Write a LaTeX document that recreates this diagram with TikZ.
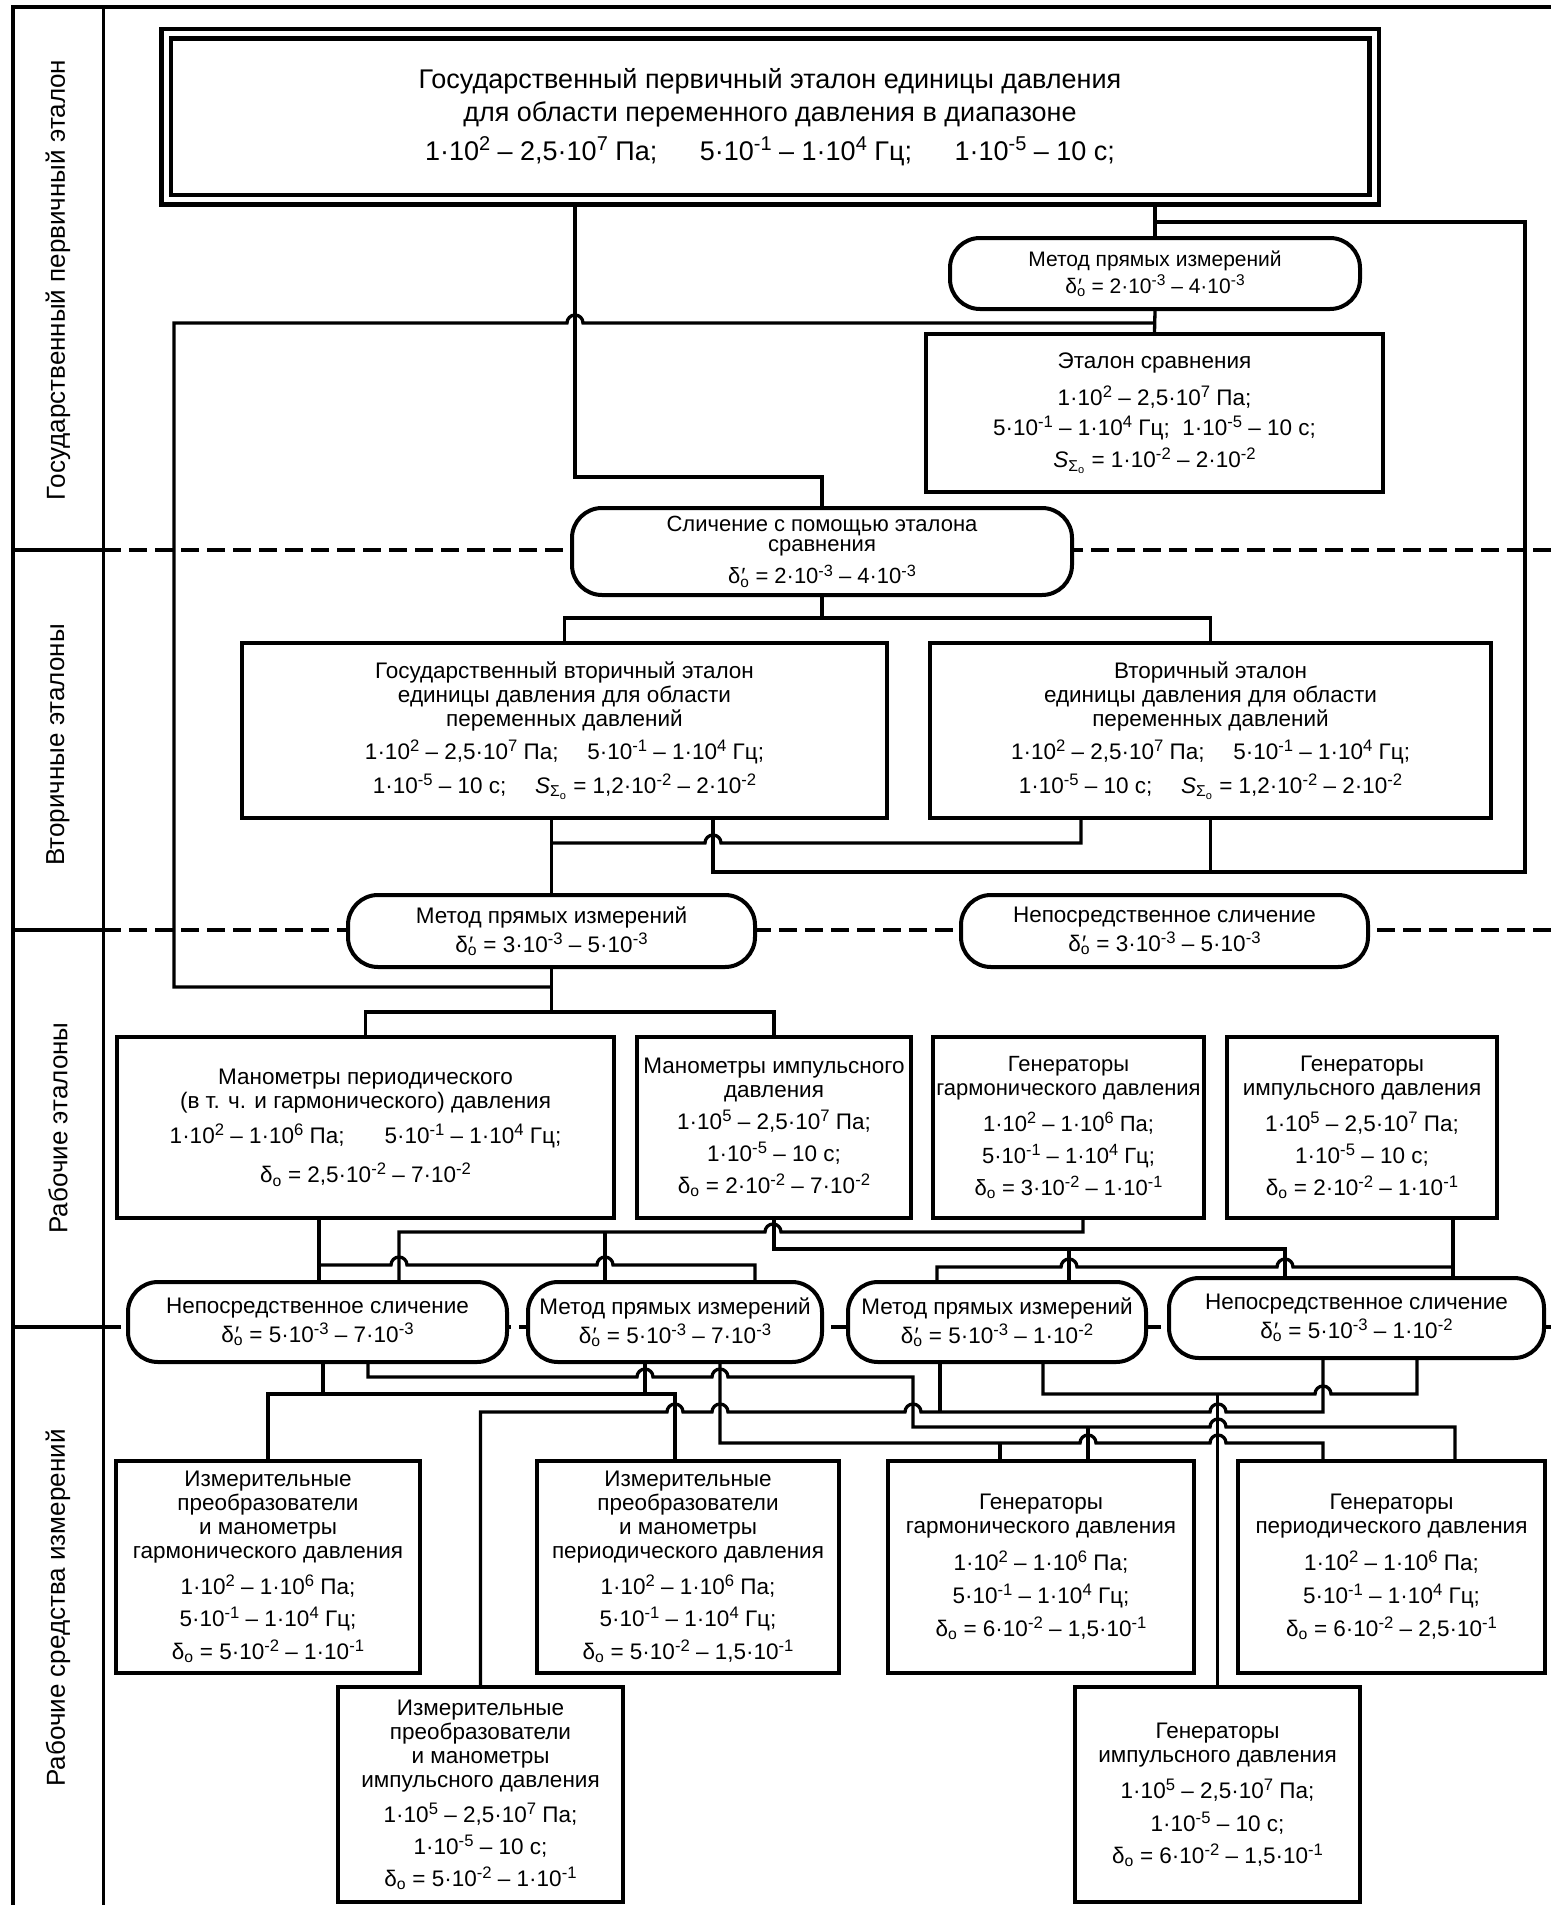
\documentclass[tikz,border=0pt]{standalone}
\usepackage{fontspec}
\setmainfont{Liberation Sans}
\newcommand{\tp}[1]{\raisebox{0.36em}{\scalebox{0.74}{#1}}}
\newcommand{\dpr}{δ\rlap{\kern0.05em′}\textsubscript{o}}
\newcommand{\dlo}{δ\textsubscript{o}}
\newcommand{\sso}{\textit{S}\textsubscript{Σ\textsubscript{o}}}
\begin{document}
\begin{tikzpicture}[x=1pt,y=-1pt,
  box/.style={draw,line width=4pt,fill=white,align=center,inner sep=2pt,font=\fontsize{22.5}{24}\selectfont},
  oval/.style={box,rounded corners=30pt},
  conn/.style={line width=3.3pt},
  rowsep/.style={line width=4.5pt,dash pattern=on 18pt off 8pt},
  lbl/.style={rotate=90,font=\fontsize{26}{30}\selectfont}]
\useasboundingbox (0,0) rectangle (1551,1905);
\fill[white] (0,0) rectangle (1551,1905);
% frame and rows
\draw[line width=4pt] (13,1905) -- (13,7) -- (1551,7);
\draw[line width=3pt] (103,7) -- (103,1905);
\foreach \y in {550,930,1327} {
  \draw[line width=4.5pt] (13,\y) -- (103,\y);
  \draw[rowsep] (103,\y) -- (1551,\y);
}
\node[lbl] (lab1) at (58,280) {Государственный первичный эталон};
\node[lbl] (lab2) at (58,745) {Вторичные эталоны};
\node[lbl] (lab3) at (58,1128) {Рабочие эталоны};
\node[lbl] (lab4) at (58,1608) {Рабочие средства измерений};
% primary standard
\node[box,double,double distance=5pt,line width=4.5pt,minimum width=1208pt,minimum height=166pt,font=\fontsize{27}{33}\selectfont] (prim) at (770,117)
  {Государственный первичный эталон единицы давления\\ для области переменного давления в диапазоне\\[6pt]
   1·10\tp{2} – 2,5·10\tp{7} Па;\hspace{1.3em} 5·10\tp{-1} – 1·10\tp{4} Гц;\hspace{1.3em} 1·10\tp{-5} – 10 с;};
\node[oval,minimum width=410pt,minimum height=71pt,font=\fontsize{21}{23}\selectfont] (mpd1) at (1155,273.5)
  {Метод прямых измерений\\[4pt] \dpr{} = 2·10\tp{-3} – 4·10\tp{-3}};
\node[box,minimum width=457pt,minimum height=158pt] (etsr) at (1154.5,413)
  {Эталон сравнения\\[12pt] 1·10\tp{2} – 2,5·10\tp{7} Па;\\[6pt] 5·10\tp{-1} – 1·10\tp{4} Гц;\ \ 1·10\tp{-5} – 10 с;\\[7pt] \sso{} = 1·10\tp{-2} – 2·10\tp{-2}};
% secondary standards
\node[oval,minimum width=500pt,minimum height=87pt,font=\fontsize{22}{20}\selectfont] (slich) at (822,551.5)
  {Сличение с помощью эталона\\ сравнения\\[8pt] \dpr{} = 2·10\tp{-3} – 4·10\tp{-3}};
\node[box,minimum width=645pt,minimum height=175pt] (gvt) at (564.5,730.5)
  {Государственный вторичный эталон\\ единицы давления для области\\ переменных давлений\\[8pt]
   1·10\tp{2} – 2,5·10\tp{7} Па;\hspace{1em} 5·10\tp{-1} – 1·10\tp{4} Гц;\\[8pt] 1·10\tp{-5} – 10 с;\hspace{1em} \sso{} = 1,2·10\tp{-2} – 2·10\tp{-2}};
\node[box,minimum width=561pt,minimum height=175pt] (vt) at (1210.5,730.5)
  {Вторичный эталон\\ единицы давления для области\\ переменных давлений\\[8pt]
   1·10\tp{2} – 2,5·10\tp{7} Па;\hspace{1em} 5·10\tp{-1} – 1·10\tp{4} Гц;\\[8pt] 1·10\tp{-5} – 10 с;\hspace{1em} \sso{} = 1,2·10\tp{-2} – 2·10\tp{-2}};
\node[oval,minimum width=407pt,minimum height=72pt] (mpd2) at (551.5,931)
  {Метод прямых измерений\\[4pt] \dpr{} = 3·10\tp{-3} – 5·10\tp{-3}};
\node[oval,minimum width=407pt,minimum height=72pt] (nsl2) at (1164.5,931)
  {Непосредственное сличение\\[4pt] \dpr{} = 3·10\tp{-3} – 5·10\tp{-3}};
% working standards
\node[box,minimum width=497pt,minimum height=181pt] (manper) at (365.5,1127.5)
  {Манометры периодического\\ (в т. ч. и гармонического) давления\\[10pt]
   1·10\tp{2} – 1·10\tp{6} Па;\hspace{1.5em} 5·10\tp{-1} – 1·10\tp{4} Гц;\\[14pt] \dlo{} = 2,5·10\tp{-2} – 7·10\tp{-2}};
\node[box,minimum width=274pt,minimum height=181pt] (manimp) at (774,1127.5)
  {Манометры импульсного\\ давления\\[7pt] 1·10\tp{5} – 2,5·10\tp{7} Па;\\[8pt] 1·10\tp{-5} – 10 с;\\[8pt] \dlo{} = 2·10\tp{-2} – 7·10\tp{-2}};
\node[box,minimum width=271pt,minimum height=181pt,font=\fontsize{22}{24}\selectfont] (genharm) at (1068.5,1127.5)
  {Генераторы\\ гармонического давления\\[12pt] 1·10\tp{2} – 1·10\tp{6} Па;\\[8pt] 5·10\tp{-1} – 1·10\tp{4} Гц;\\[8pt] \dlo{} = 3·10\tp{-2} – 1·10\tp{-1}};
\node[box,minimum width=270pt,minimum height=181pt] (genimp) at (1362,1127.5)
  {Генераторы\\ импульсного давления\\[11pt] 1·10\tp{5} – 2,5·10\tp{7} Па;\\[8pt] 1·10\tp{-5} – 10 с;\\[8pt] \dlo{} = 2·10\tp{-2} – 1·10\tp{-1}};
% comparison methods, lower row
\node[oval,minimum width=379pt,minimum height=80pt] (nsa) at (317.5,1322)
  {Непосредственное сличение\\[4pt] \dpr{} = 5·10\tp{-3} – 7·10\tp{-3}};
\node[oval,minimum width=294pt,minimum height=80pt] (mpa) at (675,1322)
  {Метод прямых измерений\\[4pt] \dpr{} = 5·10\tp{-3} – 7·10\tp{-3}};
\node[oval,minimum width=298pt,minimum height=80pt] (mpb) at (997,1322)
  {Метод прямых измерений\\[4pt] \dpr{} = 5·10\tp{-3} – 1·10\tp{-2}};
\node[oval,minimum width=375pt,minimum height=80pt] (nsb) at (1356.5,1318)
  {Непосредственное сличение\\[4pt] \dpr{} = 5·10\tp{-3} – 1·10\tp{-2}};
% working measuring instruments
\node[box,minimum width=304pt,minimum height=212pt] (izh) at (268,1567)
  {Измерительные\\ преобразователи\\ и манометры\\ гармонического давления\\[10pt]
   1·10\tp{2} – 1·10\tp{6} Па;\\[8pt] 5·10\tp{-1} – 1·10\tp{4} Гц;\\[8pt] \dlo{} = 5·10\tp{-2} – 1·10\tp{-1}};
\node[box,minimum width=302pt,minimum height=212pt] (izp) at (688,1567)
  {Измерительные\\ преобразователи\\ и манометры\\ периодического давления\\[10pt]
   1·10\tp{2} – 1·10\tp{6} Па;\\[8pt] 5·10\tp{-1} – 1·10\tp{4} Гц;\\[8pt] \dlo{} = 5·10\tp{-2} – 1,5·10\tp{-1}};
\node[box,minimum width=306pt,minimum height=212pt] (gh) at (1041,1567)
  {Генераторы\\ гармонического давления\\[11pt] 1·10\tp{2} – 1·10\tp{6} Па;\\[9pt] 5·10\tp{-1} – 1·10\tp{4} Гц;\\[8pt] \dlo{} = 6·10\tp{-2} – 1,5·10\tp{-1}};
\node[box,minimum width=307pt,minimum height=212pt] (gp) at (1391.5,1567)
  {Генераторы\\ периодического давления\\[11pt] 1·10\tp{2} – 1·10\tp{6} Па;\\[9pt] 5·10\tp{-1} – 1·10\tp{4} Гц;\\[8pt] \dlo{} = 6·10\tp{-2} – 2,5·10\tp{-1}};
\node[box,minimum width=285pt,minimum height=215pt] (izi) at (480.5,1794.5)
  {Измерительные\\ преобразователи\\ и манометры\\ импульсного давления\\[10pt]
   1·10\tp{5} – 2,5·10\tp{7} Па;\\[8pt] 1·10\tp{-5} – 10 с;\\[8pt] \dlo{} = 5·10\tp{-2} – 1·10\tp{-1}};
\node[box,minimum width=285pt,minimum height=215pt] (gi) at (1217.5,1794.5)
  {Генераторы\\ импульсного давления\\[11pt] 1·10\tp{5} – 2,5·10\tp{7} Па;\\[9pt] 1·10\tp{-5} – 10 с;\\[8pt] \dlo{} = 6·10\tp{-2} – 1,5·10\tp{-1}};
% connectors, upper part
\draw[conn] (prim.south -| 575,0) |- (slich.north |- 0,477) -- (slich.north);
\draw[conn] (prim.south -| mpd1) -- (mpd1.north);
\draw[conn] (mpd1.south) -- (etsr.north);
\draw[conn] (mpd1.south |- 0,323) -- (583,323) arc[start angle=0,end angle=180,radius=8pt] -- (174,323) |- (mpd2.south |- 0,987);
\draw[conn] (mpd1 |- 0,222) -| (1525,872) -- (713,872) -- (gvt.south -| 713,0);
\draw[conn] (vt.south) -- (vt.south |- 0,872);
\draw[conn] (slich.south) -- (slich.south |- 0,618);
\draw[conn] (gvt.north) |- (vt.north |- 0,618) -- (vt.north);
\draw[conn] (gvt.south -| mpd2) -- (mpd2.north);
\draw[conn] (vt.south -| 1081,0) |- (721,843) arc[start angle=0,end angle=180,radius=8pt] -- (mpd2.north |- 0,843);
\draw[conn] (mpd2.south) -- (mpd2.south |- 0,1012);
\draw[conn] (manper.north) |- (manimp.north |- 0,1012) -- (manimp.north);
% working standards to methods
\draw[conn] (manper.south -| 319,0) -- (nsa.north -| 319,0);
\draw[conn] (319,1265) -- (391,1265) arc[start angle=180,end angle=0,radius=8pt] -- (597,1265) arc[start angle=180,end angle=0,radius=8pt] -- (755,1265) -- (mpa.north -| 755,0);
\draw[conn] (genharm.south -| 1083,0) |- (781,1232) arc[start angle=0,end angle=180,radius=8pt] -- (399,1232) -- (nsa.north -| 399,0);
\draw[conn] (605,1232) -- (mpa.north -| 605,0);
\draw[conn] (manimp.south) |- (1285,1249) -- (nsb.north -| 1285,0);
\draw[conn] (1069,1249) -- (mpb.north -| 1069,0);
\draw[conn] (genimp.south -| 1453,0) -- (nsb.north -| 1453,0);
\draw[conn] (1453,1267) -- (1293,1267) arc[start angle=0,end angle=180,radius=8pt] -- (1077,1267) arc[start angle=0,end angle=180,radius=8pt] -- (937,1267) -- (mpb.north -| 937,0);
% methods to working instruments
\draw[conn] (nsa.south -| 323,0) -- (323,1394);
\draw[conn] (izh.north) |- (675,1394) -- (izp.north -| 675,0);
\draw[conn] (mpa.south -| 645,0) -- (645,1394);
\draw[conn] (nsa.south -| 368,0) |- (637,1377) arc[start angle=180,end angle=0,radius=8pt] -- (712,1377) arc[start angle=180,end angle=0,radius=8pt] -- (913,1377) |- (1210,1427) arc[start angle=180,end angle=0,radius=8pt] -- (1455,1427) -- (gp.north -| 1455,0);
\draw[conn] (1088,1427) -- (gh.north -| 1088,0);
\draw[conn] (mpa.south -| 720,0) |- (1080,1443) arc[start angle=180,end angle=0,radius=8pt] -- (1210,1443) arc[start angle=180,end angle=0,radius=8pt] -- (1323,1443) -- (gp.north -| 1323,0);
\draw[conn] (1000,1443) -- (gh.north -| 1000,0);
\draw[conn] (izi.north) |- (667,1412) arc[start angle=180,end angle=0,radius=8pt] -- (712,1412) arc[start angle=180,end angle=0,radius=8pt] -- (905,1412) arc[start angle=180,end angle=0,radius=8pt] -- (1210,1412) arc[start angle=180,end angle=0,radius=8pt] -- (1323,1412) -- (nsb.south -| 1323,0);
\draw[conn] (mpb.south -| 940,0) -- (940,1412);
\draw[conn] (mpb.south -| 1043,0) |- (1315,1394) arc[start angle=180,end angle=0,radius=8pt] -- (1417,1394) -- (nsb.south -| 1417,0);
\draw[conn] (gi.north) -- (gi.north |- 0,1394);
\end{tikzpicture}
\end{document}
